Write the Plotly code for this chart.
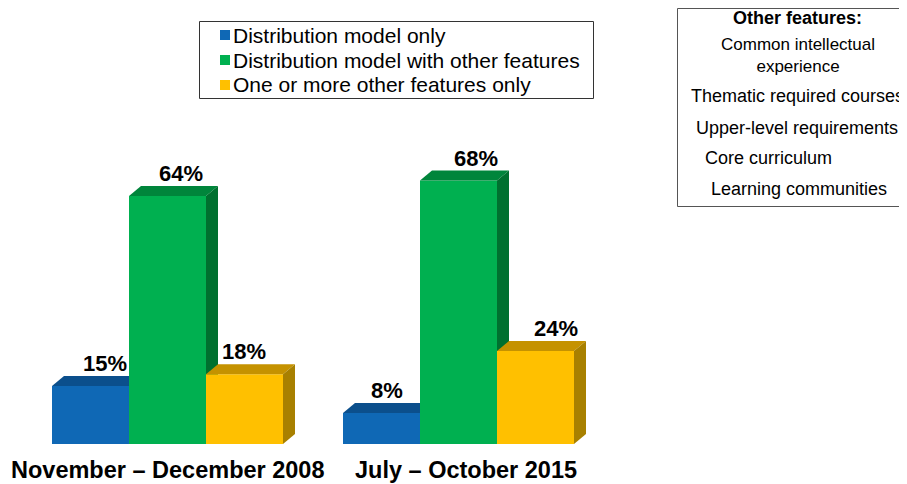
import plotly.graph_objects as go

# --- data ---
periods = ["November – December 2008", "July – October 2015"]
series = ["Distribution model only",
          "Distribution model with other features",
          "One or more other features only"]
dist_only = [15, 8]
dist_with_other = [64, 68]
other_only = [18, 24]
values = [dist_only, dist_with_other, other_only]

features_title = "Other features:"
other_features = ["Common intellectual<br>experience",
                  "Thematic required courses",
                  "Upper-level requirements",
                  "Core curriculum",
                  "Learning communities"]

# --- styling / layout (in pixels of the 907x484 window) ---
OFF = 8                       # page body margin of the html page
W, H = 907 - OFF, 484 - OFF
px_per_pct = 3.875
base_px = 444
front = ["#0F68B5", "#00B050", "#FFC000"]
top = ["#0B4F8C", "#00853B", "#C59200"]
side = ["#0A4478", "#00702F", "#A88000"]
group_x = [167.5, 458.5]       # group centres, x axis is in window pixels
period_x = [168, 466]
bar_w = 77
dx = 12                        # depth offset (px)
dy = 10 / px_per_pct           # depth offset (% units)
label_nudge = [[14, 13, -1], [5, 17, 20]]


def pxp(x):
    return (x - OFF) / W


def pyp(y):
    return 1 - (y - OFF) / H


def to_val(y):
    return (base_px - y) / px_per_pct


fig = go.Figure()

for g, gx in enumerate(group_x):
    for i in range(3):
        v = values[i][g]
        x0 = gx - 1.5 * bar_w + i * bar_w
        x1 = x0 + bar_w
        # front face
        fig.add_trace(go.Scatter(x=[x0, x1, x1, x0, x0], y=[0, 0, v, v, 0],
                                 fill="toself", fillcolor=front[i], mode="lines",
                                 line=dict(width=0), showlegend=False, hoverinfo="skip"))
        # top face
        fig.add_trace(go.Scatter(x=[x0, x1, x1 + dx, x0 + dx, x0],
                                 y=[v, v, v + dy, v + dy, v],
                                 fill="toself", fillcolor=top[i], mode="lines",
                                 line=dict(width=0), showlegend=False, hoverinfo="skip"))
        # side face
        fig.add_trace(go.Scatter(x=[x1, x1, x1 + dx, x1 + dx, x1],
                                 y=[0, v, v + dy, dy, 0],
                                 fill="toself", fillcolor=side[i], mode="lines",
                                 line=dict(width=0), showlegend=False, hoverinfo="skip"))
        fig.add_annotation(x=(x0 + x1) / 2 + label_nudge[g][i], y=v + dy,
                           text=f"<b>{v}%</b>", showarrow=False, yanchor="bottom",
                           yshift=-2, font=dict(size=22, color="black"))
    fig.add_annotation(x=period_x[g], y=to_val(470), text=f"<b>{periods[g]}</b>",
                       showarrow=False, xanchor="center", yanchor="middle",
                       font=dict(size=23.5, color="black"))

# legend box (drawn by hand)
fig.add_shape(type="rect", xref="paper", yref="paper",
              x0=pxp(199.5), x1=pxp(593.5), y0=pyp(98.5), y1=pyp(21.5),
              line=dict(color="#333333", width=1), fillcolor="white", layer="below")
for i, name in enumerate(series):
    cy = 35 + i * 25
    fig.add_shape(type="rect", xref="paper", yref="paper",
                  x0=pxp(220), x1=pxp(230), y0=pyp(cy + 5), y1=pyp(cy - 5),
                  line=dict(width=0), fillcolor=front[i])
    fig.add_annotation(xref="paper", yref="paper", x=pxp(231), y=pyp(cy),
                       text=name, showarrow=False, xanchor="left", yanchor="middle",
                       font=dict(size=21, color="black"))

# "Other features" box
fig.add_shape(type="rect", xref="paper", yref="paper",
              x0=pxp(677.5), x1=1.05, y0=pyp(206.5), y1=pyp(8.5),
              line=dict(color="#555555", width=1), fillcolor="white", layer="below")
fig.add_annotation(xref="paper", yref="paper", x=pxp(797), y=pyp(18),
                   text=f"<b>{features_title}</b>", showarrow=False,
                   xanchor="center", yanchor="middle",
                   font=dict(size=18, color="black"))
feat_y = [56, 96, 128, 158, 189]
feat_x = [798, 797, 797, 768, 799]
feat_size = [17, 18, 18, 18, 18]
for t, fx, fy, fs in zip(other_features, feat_x, feat_y, feat_size):
    fig.add_annotation(xref="paper", yref="paper", x=pxp(fx), y=pyp(fy),
                       text=t, showarrow=False, xanchor="center", yanchor="middle",
                       font=dict(size=fs, color="black"))

fig.update_layout(
    width=W, height=H,
    margin=dict(l=0, r=0, t=0, b=0),
    paper_bgcolor="white", plot_bgcolor="white",
    font=dict(family="Liberation Sans, Arial, sans-serif", color="black"),
    xaxis=dict(range=[OFF, 907], visible=False, fixedrange=True),
    yaxis=dict(range=[to_val(484), to_val(OFF)], visible=False, fixedrange=True),
    showlegend=False,
)

fig.write_html("out.html")
